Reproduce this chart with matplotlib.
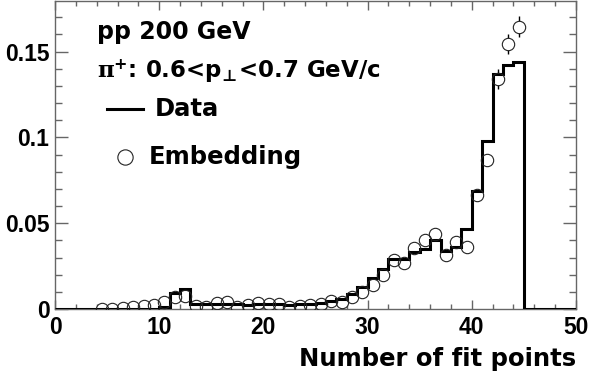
import numpy as np
import matplotlib
matplotlib.use("Agg")
import matplotlib.pyplot as plt
from matplotlib.ticker import MultipleLocator, FuncFormatter

plt.rcParams["font.family"] = ["DejaVu Sans"]
plt.rcParams["font.weight"] = "bold"
plt.rcParams["mathtext.fontset"] = "custom"
plt.rcParams["mathtext.rm"] = "DejaVu Serif"
plt.rcParams["mathtext.it"] = "DejaVu Serif"
plt.rcParams["mathtext.bf"] = "DejaVu Sans:bold"

# Data histogram: bin edges 0..50, one value per unit bin
edges = np.arange(0, 51)
data_vals = [
    0, 0, 0, 0, 0, 0, 0, 0, 0, 0,
    0.0013, 0.0095, 0.0114, 0.0032, 0.0028, 0.0030, 0.0030, 0.0027, 0.0026, 0.0027,
    0.0027, 0.0028, 0.0026, 0.0028, 0.0030, 0.0036, 0.0045, 0.0060, 0.0088, 0.0128,
    0.0178, 0.0234, 0.0292, 0.0292, 0.0335, 0.0350, 0.0405, 0.0338, 0.0360, 0.0468,
    0.0688, 0.0980, 0.1370, 0.1420, 0.1440, 0, 0, 0, 0, 0,
]

# Embedding points at bin centres 4.5 .. 44.5
emb_x = np.arange(4.5, 45.0, 1.0)
emb_y = [
    0.0000, 0.0000, 0.0003, 0.0012, 0.0015, 0.0025, 0.0043, 0.0072, 0.0075, 0.0018,
    0.0012, 0.0033, 0.0043, 0.0012, 0.0022, 0.0033, 0.0030, 0.0030, 0.0010, 0.0019,
    0.0023, 0.0029, 0.0048, 0.0043, 0.0068, 0.0101, 0.0140, 0.0198, 0.0285, 0.0266,
    0.0353, 0.0401, 0.0440, 0.0314, 0.0391, 0.0362, 0.0663, 0.0866, 0.1340, 0.1545,
    0.1645,
]
emb_err = [
    0.0003, 0.0003, 0.0003, 0.0004, 0.0004, 0.0005, 0.0006, 0.0008, 0.0008, 0.0004,
    0.0003, 0.0005, 0.0006, 0.0003, 0.0005, 0.0005, 0.0005, 0.0005, 0.0003, 0.0004,
    0.0005, 0.0005, 0.0007, 0.0006, 0.0008, 0.0010, 0.0012, 0.0014, 0.0017, 0.0016,
    0.0019, 0.0020, 0.0021, 0.0018, 0.0020, 0.0019, 0.0026, 0.0034, 0.0056, 0.0058,
    0.0060,
]

fig = plt.figure(figsize=(5.91, 3.79), dpi=100)
ax = fig.add_axes([55 / 591, 70 / 379, 521 / 591, 308 / 379])

# error bars, hidden inside the markers by white discs
ax.errorbar(emb_x, emb_y, yerr=emb_err, fmt="none", ecolor="black",
            elinewidth=1.0, zorder=1)
ax.plot(emb_x, emb_y, "o", ms=8.9, mfc="white", mec="white", mew=0, zorder=2)
ax.stairs(data_vals, edges, color="black", linewidth=2.2, zorder=3)
ax.plot(emb_x, emb_y, "o", ms=8.9, mfc="none", mec="#222222", mew=0.8, zorder=4)

ax.set_xlim(0, 50)
ax.set_ylim(0, 0.1795)

ax.xaxis.set_major_locator(MultipleLocator(10))
ax.xaxis.set_minor_locator(MultipleLocator(2))
ax.yaxis.set_major_locator(MultipleLocator(0.05))
ax.yaxis.set_minor_locator(MultipleLocator(0.01))
ax.yaxis.set_major_formatter(FuncFormatter(lambda v, p: "%g" % round(v, 3)))

frame_col = "#666666"
for s in ax.spines.values():
    s.set_color(frame_col)
    s.set_linewidth(1.0)
ax.tick_params(which="both", direction="in", top=True, right=True,
               color=frame_col, width=1.0)
ax.tick_params(axis="y", which="major", length=9.4, pad=4)
ax.tick_params(axis="y", which="minor", length=5.0)
ax.tick_params(axis="x", which="major", length=6.5, pad=5)
ax.tick_params(axis="x", which="minor", length=3.6)
for lab in ax.get_xticklabels() + ax.get_yticklabels():
    lab.set_family("Liberation Sans")
    lab.set_fontweight("bold")
    lab.set_fontsize(16.5)

ax.set_xlabel("Number of fit points", fontsize=17.5, fontweight="bold",
              loc="right", labelpad=6)

# text block
ax.text(0.0806, 0.877, "pp 200 GeV", transform=ax.transAxes,
        fontsize=17, fontweight="bold", va="baseline", ha="left")
ax.text(0.0800, 0.749, r"$\mathrm{\pi}^{\mathbf{+}}$: 0.6<p$_{\!\bot\!}$<0.7 GeV/c",
        transform=ax.transAxes, fontsize=16.5, fontweight="bold",
        va="baseline", ha="left")

# legend drawn by hand
ax.plot([0.100, 0.169], [0.649, 0.649], color="black", lw=2.2,
        transform=ax.transAxes, clip_on=False)
ax.text(0.192, 0.649, "Data", transform=ax.transAxes, fontsize=17.5,
        fontweight="bold", va="center", ha="left")
ax.plot([0.134], [0.493], "o", ms=11, mfc="none", mec="#222222", mew=0.8,
        transform=ax.transAxes, clip_on=False)
ax.text(0.180, 0.493, "Embedding", transform=ax.transAxes, fontsize=17.5,
        fontweight="bold", va="center", ha="left")

fig.savefig("out.png", dpi=100)
